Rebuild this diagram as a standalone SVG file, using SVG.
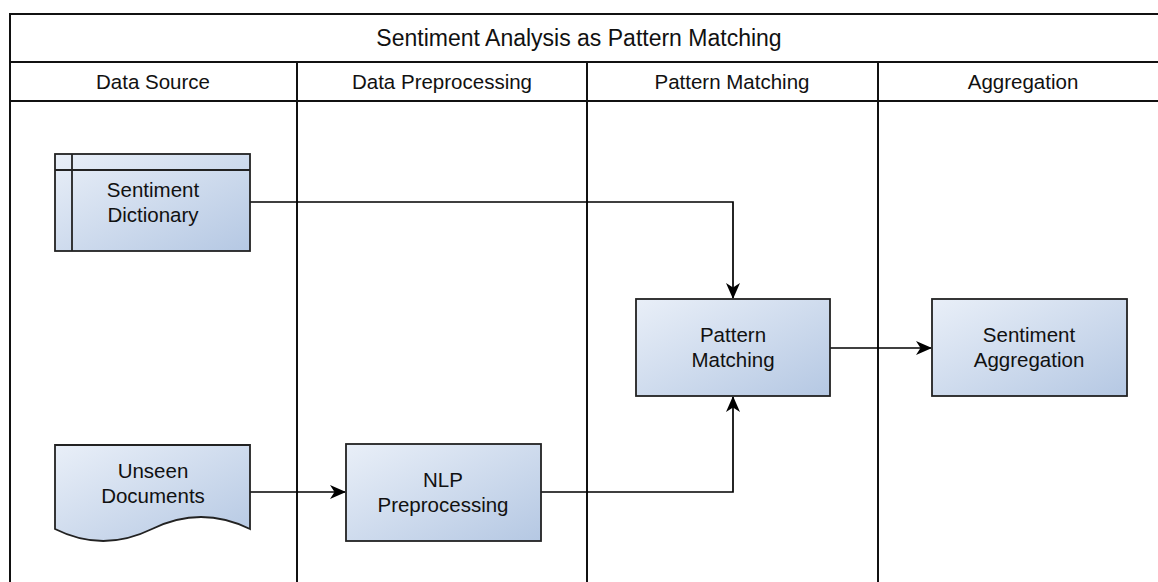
<svg xmlns="http://www.w3.org/2000/svg" width="1158" height="582" viewBox="0 0 1158 582">
<defs>
<linearGradient id="g" x1="0" y1="0" x2="1" y2="1">
<stop offset="0" stop-color="#e9eff8"/>
<stop offset="1" stop-color="#b5c8e3"/>
</linearGradient>
<marker id="arr" viewBox="0 0 16 14" refX="15" refY="7" markerWidth="16" markerHeight="14" markerUnits="userSpaceOnUse" orient="auto">
<path d="M0,0 L16,7 L0,14 L4.5,7 Z" fill="#000"/>
</marker>
<style>
.lane{fill:none;stroke:#111;stroke-width:2}
.node{fill:url(#g);stroke:#222;stroke-width:1.8}
.ln{fill:none;stroke:#222;stroke-width:1.8}
.t{font-family:"Liberation Sans",Arial,sans-serif;font-size:20.5px;fill:#111;text-anchor:middle}
.title{font-size:23px}
.edge{fill:none;stroke:#000;stroke-width:1.7;marker-end:url(#arr)}
</style>
</defs>
<rect width="1158" height="582" fill="#fff"/>
<g id="swimlanes">
<rect class="lane" x="10" y="14" width="1158" height="600"/>
<line class="lane" x1="10" y1="62" x2="1168" y2="62"/>
<line class="lane" x1="10" y1="101" x2="1168" y2="101"/>
<line class="lane" x1="297" y1="62" x2="297" y2="600"/>
<line class="lane" x1="587" y1="62" x2="587" y2="600"/>
<line class="lane" x1="878" y1="62" x2="878" y2="600"/>
<text class="t title" x="579" y="46">Sentiment Analysis as Pattern Matching</text>
<text class="t" x="153" y="89">Data Source</text>
<text class="t" x="442" y="89">Data Preprocessing</text>
<text class="t" x="732" y="89">Pattern Matching</text>
<text class="t" x="1023" y="89">Aggregation</text>
</g>
<g id="connectors">
<polyline class="edge" points="250,202 733,202 733,298"/>
<polyline class="edge" points="250,492 345,492"/>
<polyline class="edge" points="541,492 733,492 733,397"/>
<polyline class="edge" points="830,348 931,348"/>
</g>
<g id="sentiment-dictionary">
<rect class="node" x="55" y="154" width="195" height="97"/>
<line class="ln" x1="72" y1="154" x2="72" y2="251"/>
<line class="ln" x1="55" y1="170" x2="250" y2="170"/>
<text class="t" x="153" y="197">Sentiment</text>
<text class="t" x="153" y="222">Dictionary</text>
</g>
<g id="unseen-documents">
<path class="node" d="M55,445 H250 V529 Q201,505 152,529 Q103,553 55,529 Z"/>
<text class="t" x="153" y="478">Unseen</text>
<text class="t" x="153" y="503">Documents</text>
</g>
<g id="nlp-preprocessing">
<rect class="node" x="346" y="444" width="195" height="97"/>
<text class="t" x="443" y="487">NLP</text>
<text class="t" x="443" y="512">Preprocessing</text>
</g>
<g id="pattern-matching">
<rect class="node" x="636" y="299" width="194" height="97"/>
<text class="t" x="733" y="342">Pattern</text>
<text class="t" x="733" y="367">Matching</text>
</g>
<g id="sentiment-aggregation">
<rect class="node" x="932" y="299" width="195" height="97"/>
<text class="t" x="1029" y="342">Sentiment</text>
<text class="t" x="1029" y="367">Aggregation</text>
</g>
</svg>
